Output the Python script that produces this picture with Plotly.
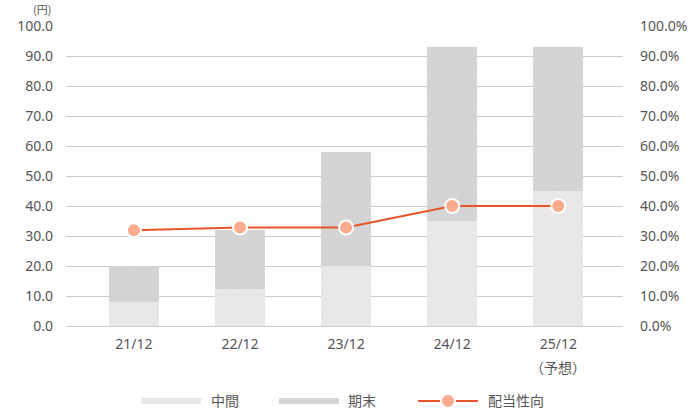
import plotly.graph_objects as go

categories = ["21/12", "22/12", "23/12", "24/12", "25/12"]
forecast_note = ["", "", "", "", "（予想）"]
interim = [8.0, 12.5, 20.0, 35.0, 45.0]
final = [12.0, 19.5, 38.0, 58.0, 48.0]
payout = [31.9, 32.8, 32.8, 40.0, 40.0]
left_ticks = [0, 10, 20, 30, 40, 50, 60, 70, 80, 90, 100]
left_labels = [f"{v:.1f}" for v in left_ticks]
right_labels = [f"{v:.1f}%" for v in left_ticks]
legend_names = ["中間", "期末", "配当性向"]

FONT = "Noto Sans CJK JP, Noto Sans, sans-serif"
NUMFONT = "Noto Sans, sans-serif"
TXT = "#555555"
C_INT = "#e8e8e8"
C_FIN = "#d4d4d4"
C_LINE = "#e9542a"
C_MARK = "#fbaa8c"

fig = go.Figure()
fig.add_trace(go.Bar(
    x=categories, y=interim, name=legend_names[0], showlegend=False,
    marker=dict(color=C_INT, line=dict(width=0),
                pattern=dict(shape="/", fgcolor="#dedede", size=8, solidity=0.1)),
    width=0.47,
))
fig.add_trace(go.Bar(
    x=categories, y=final, name=legend_names[1], showlegend=False,
    marker=dict(color=C_FIN, line=dict(width=0),
                pattern=dict(shape="/", fgcolor="#c9c9c9", size=8, solidity=0.1)),
    width=0.47,
))
fig.add_trace(go.Scatter(
    x=categories, y=payout, name=legend_names[2], yaxis="y2", mode="lines+markers",
    line=dict(color=C_LINE, width=2),
    marker=dict(color=C_MARK, size=14, line=dict(color="white", width=2)),
    showlegend=False,
))

# manual legend (paper coordinates)
shapes = []
annotations = []
ly0, ly1, lyc = -0.24, -0.26, -0.25
shapes.append(dict(type="rect", xref="paper", yref="paper", x0=0.1347, x1=0.2424,
                   y0=ly1, y1=ly0, fillcolor=C_INT, line=dict(width=0)))
shapes.append(dict(type="rect", xref="paper", yref="paper", x0=0.3824, x1=0.4901,
                   y0=ly1, y1=ly0, fillcolor=C_FIN, line=dict(width=0)))
shapes.append(dict(type="line", xref="paper", yref="paper", x0=0.6320, x1=0.7397,
                   y0=lyc, y1=lyc, line=dict(color=C_LINE, width=2)))
shapes.append(dict(type="circle", xref="paper", yref="paper",
                   x0=0.6858 - 0.0126, x1=0.6858 + 0.0126,
                   y0=lyc - 0.0233, y1=lyc + 0.0233,
                   fillcolor=C_MARK, line=dict(color="white", width=2)))
for xpos, name in zip([0.2585, 0.5045, 0.7558], legend_names):
    annotations.append(dict(text=name, xref="paper", yref="paper", x=xpos, y=-0.245,
                            xanchor="left", yanchor="middle", showarrow=False,
                            borderpad=0, font=dict(size=14, color=TXT)))
annotations.append(dict(text="(円)", xref="paper", yref="paper", x=-0.025, y=1.086,
                        xanchor="right", yanchor="top", showarrow=False,
                        borderpad=0, font=dict(size=11, color=TXT)))
for cat, note in zip(categories, forecast_note):
    if note:
        annotations.append(dict(text=note, xref="x", yref="paper", x=cat, y=-0.137,
                                xanchor="center", yanchor="middle", showarrow=False,
                                borderpad=0, font=dict(size=14, color=TXT)))

fig.update_layout(
    width=692, height=409,
    margin=dict(l=66, r=69, t=26, b=83),
    paper_bgcolor="white", plot_bgcolor="white",
    barmode="stack",
    showlegend=False,
    font=dict(family=FONT, size=14, color=TXT),
    xaxis=dict(range=[-0.64, 4.61], showgrid=False, showline=False, automargin=False,
               ticks="", ticklabelstandoff=8, tickfont=dict(family=NUMFONT, size=14, color=TXT)),
    yaxis=dict(range=[0, 100], tickvals=left_ticks, ticktext=left_labels,
               showgrid=True, gridcolor="#cccccc", gridwidth=1, automargin=False,
               zeroline=True, zerolinecolor="#cccccc", zerolinewidth=1,
               ticks="", ticklabelstandoff=12, tickfont=dict(family=NUMFONT, size=14, color=TXT)),
    yaxis2=dict(range=[0, 100], overlaying="y", side="right", automargin=False,
                tickvals=left_ticks, ticktext=right_labels, showgrid=False,
                zeroline=False, ticklabelstandoff=16, tickfont=dict(family=NUMFONT, size=14, color=TXT)),
    shapes=shapes,
    annotations=annotations,
)
fig.write_html("out.html")
